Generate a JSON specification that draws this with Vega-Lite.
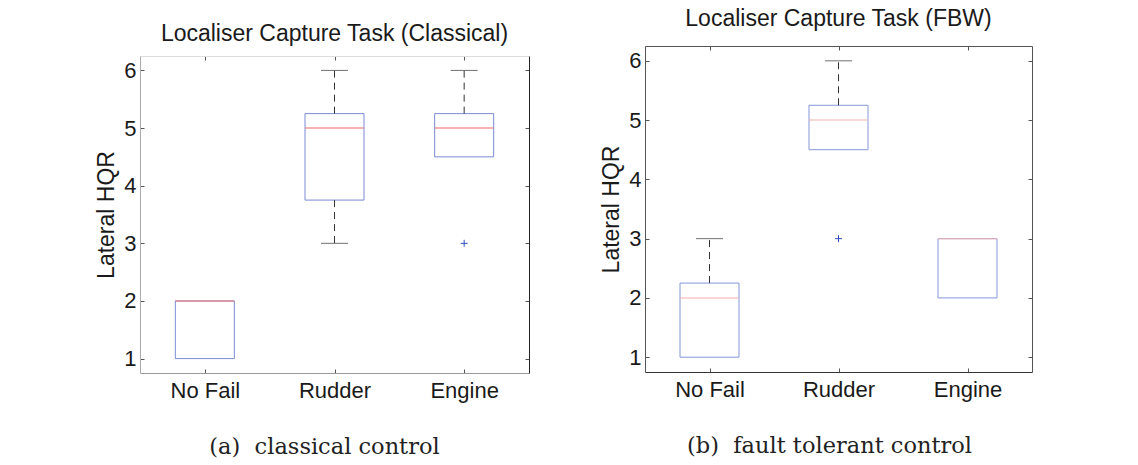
{
  "$schema": "https://vega.github.io/schema/vega-lite/v6.json",
  "background": "white",
  "padding": {"left": 95, "top": 7, "right": 0, "bottom": 0},
  "spacing": 70,
  "config": {
    "font": "Liberation Sans",
    "view": {"stroke": null},
    "axis": {
      "grid": false,
      "labelFont": "Liberation Sans", "labelFontSize": 22, "labelColor": "#1a1a1a",
      "titleFont": "Liberation Sans", "titleFontSize": 23, "titleFontWeight": "normal", "titleColor": "#1a1a1a",
      "tickSize": -4, "tickColor": "#555", "domainColor": "#555"
    },
    "title": {"font": "Liberation Sans", "fontSize": 23, "fontWeight": "normal", "color": "#1a1a1a"}
  },
  "datasets": {
    "a_box": [
      {"cat": "No Fail", "q1": 1, "med": 2, "q3": 2},
      {"cat": "Rudder", "q1": 3.75, "med": 5, "q3": 5.25},
      {"cat": "Engine", "q1": 4.5, "med": 5, "q3": 5.25}
    ],
    "a_wh": [
      {"cat": "Rudder", "from": 5.25, "to": 6},
      {"cat": "Rudder", "from": 3.75, "to": 3},
      {"cat": "Engine", "from": 5.25, "to": 6}
    ],
    "a_out": [{"cat": "Engine", "v": 3}],
    "b_box": [
      {"cat": "No Fail", "q1": 1, "med": 2, "q3": 2.25},
      {"cat": "Rudder", "q1": 4.5, "med": 5, "q3": 5.25},
      {"cat": "Engine", "q1": 2, "med": 3, "q3": 3}
    ],
    "b_wh": [
      {"cat": "No Fail", "from": 2.25, "to": 3},
      {"cat": "Rudder", "from": 5.25, "to": 6}
    ],
    "b_out": [{"cat": "Rudder", "v": 3}]
  },
  "hconcat": [
    {
      "width": 389, "height": 327,
      "title": {"text": "Localiser Capture Task (Classical)", "offset": 0},
      "resolve": {"axis": {"x": "independent", "y": "independent"}},
      "layer": [
        {
          "data": {"name": "a_box"},
          "mark": {"type": "bar", "width": 59, "fill": "white", "fillOpacity": 0, "stroke": "#7a8bd4", "strokeWidth": 1},
          "encoding": {
            "x": {"field": "cat", "type": "nominal", "scale": {"type": "point", "domain": ["No Fail", "Rudder", "Engine"], "padding": 0.5},
                  "axis": {"orient": "bottom", "labelAngle": 0, "labelPadding": 11, "domainColor": "#999", "title": "(a)\u00a0 classical control", "titleFont": "DejaVu Serif", "titleFontSize": 22.5, "titlePadding": 34, "titleX": 184, "titleColor": "#222"}},
            "y": {"field": "q1", "type": "quantitative", "scale": {"domain": [0.75, 6.25], "nice": false, "zero": false, "range": [327, 10]},
                  "axis": {"orient": "left", "values": [1, 2, 3, 4, 5, 6], "labelPadding": 8, "domainColor": "#aaa", "title": "Lateral HQR", "titlePadding": 5}},
            "y2": {"field": "q3"}
          }
        },
        {
          "data": {"name": "a_box"},
          "mark": {"type": "tick", "size": 59, "thickness": 1.5, "color": "#f07070"},
          "encoding": {
            "x": {"field": "cat", "type": "nominal", "scale": {"type": "point", "domain": ["No Fail", "Rudder", "Engine"], "padding": 0.5},
                  "axis": {"orient": "top", "offset": -10, "labels": false, "title": null, "domainColor": "#ddd"}},
            "y": {"field": "med", "type": "quantitative", "axis": {"orient": "right", "labels": false, "title": null, "values": [1, 2, 3, 4, 5, 6], "domainColor": "#222"}}
          }
        },
        {
          "data": {"name": "a_wh"},
          "mark": {"type": "rule", "color": "#333", "strokeWidth": 1, "strokeDash": [7, 5]},
          "encoding": {
            "x": {"field": "cat", "type": "nominal", "scale": {"type": "point", "domain": ["No Fail", "Rudder", "Engine"], "padding": 0.5}, "axis": null},
            "y": {"field": "from", "type": "quantitative", "axis": null},
            "y2": {"field": "to"}
          }
        },
        {
          "data": {"name": "a_wh"},
          "mark": {"type": "tick", "size": 27, "thickness": 1, "color": "#333"},
          "encoding": {
            "x": {"field": "cat", "type": "nominal", "scale": {"type": "point", "domain": ["No Fail", "Rudder", "Engine"], "padding": 0.5}, "axis": null},
            "y": {"field": "to", "type": "quantitative", "axis": null}
          }
        },
        {
          "data": {"name": "a_out"},
          "mark": {"type": "point", "shape": "M-1,0L1,0M0,-1L0,1", "size": 49, "filled": false, "stroke": "#3050c0", "strokeWidth": 1, "opacity": 1},
          "encoding": {
            "x": {"field": "cat", "type": "nominal", "scale": {"type": "point", "domain": ["No Fail", "Rudder", "Engine"], "padding": 0.5}, "axis": null},
            "y": {"field": "v", "type": "quantitative", "axis": null}
          }
        }
      ]
    },
    {
      "width": 387, "height": 326,
      "title": {"text": "Localiser Capture Task (FBW)", "offset": 15},
      "resolve": {"axis": {"x": "independent", "y": "independent"}},
      "layer": [
        {
          "data": {"name": "b_box"},
          "mark": {"type": "bar", "width": 59, "fill": "white", "fillOpacity": 0, "stroke": "#8596d8", "strokeWidth": 1},
          "encoding": {
            "x": {"field": "cat", "type": "nominal", "scale": {"type": "point", "domain": ["No Fail", "Rudder", "Engine"], "padding": 0.5},
                  "axis": {"orient": "bottom", "labelAngle": 0, "labelPadding": 11, "domainColor": "#333", "title": "(b)\u00a0 fault tolerant control", "titleFont": "DejaVu Serif", "titleFontSize": 22.5, "titlePadding": 34, "titleX": 184, "titleColor": "#222"}},
            "y": {"field": "q1", "type": "quantitative", "scale": {"domain": [0.75, 6.25], "nice": false, "zero": false},
                  "axis": {"orient": "left", "values": [1, 2, 3, 4, 5, 6], "labelPadding": 8, "domainColor": "#555", "title": "Lateral HQR", "titlePadding": 5}},
            "y2": {"field": "q3"}
          }
        },
        {
          "data": {"name": "b_box"},
          "mark": {"type": "tick", "size": 59, "thickness": 1.5, "color": "#f6b4b4"},
          "encoding": {
            "x": {"field": "cat", "type": "nominal", "scale": {"type": "point", "domain": ["No Fail", "Rudder", "Engine"], "padding": 0.5},
                  "axis": {"orient": "top", "labels": false, "title": null, "domainColor": "#555"}},
            "y": {"field": "med", "type": "quantitative", "axis": {"orient": "right", "labels": false, "title": null, "values": [1, 2, 3, 4, 5, 6], "domainColor": "#555"}}
          }
        },
        {
          "data": {"name": "b_wh"},
          "mark": {"type": "rule", "color": "#333", "strokeWidth": 1, "strokeDash": [7, 5]},
          "encoding": {
            "x": {"field": "cat", "type": "nominal", "scale": {"type": "point", "domain": ["No Fail", "Rudder", "Engine"], "padding": 0.5}, "axis": null},
            "y": {"field": "from", "type": "quantitative", "axis": null},
            "y2": {"field": "to"}
          }
        },
        {
          "data": {"name": "b_wh"},
          "mark": {"type": "tick", "size": 27, "thickness": 1, "color": "#333"},
          "encoding": {
            "x": {"field": "cat", "type": "nominal", "scale": {"type": "point", "domain": ["No Fail", "Rudder", "Engine"], "padding": 0.5}, "axis": null},
            "y": {"field": "to", "type": "quantitative", "axis": null}
          }
        },
        {
          "data": {"name": "b_out"},
          "mark": {"type": "point", "shape": "M-1,0L1,0M0,-1L0,1", "size": 49, "filled": false, "stroke": "#3050c0", "strokeWidth": 1, "opacity": 1},
          "encoding": {
            "x": {"field": "cat", "type": "nominal", "scale": {"type": "point", "domain": ["No Fail", "Rudder", "Engine"], "padding": 0.5}, "axis": null},
            "y": {"field": "v", "type": "quantitative", "axis": null}
          }
        }
      ]
    }
  ]
}
